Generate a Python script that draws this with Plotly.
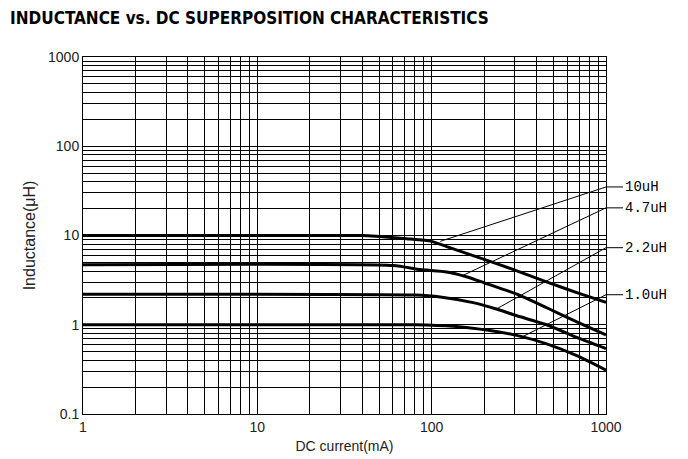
import math
import plotly.graph_objects as go

# ---- data ----
i_10 = [1, 40, 48, 72, 100, 122, 200, 300, 460, 700, 1000]
l_10 = [10, 10, 9.8, 9.2, 8.6, 7.5, 5.4, 4.1, 3.0, 2.25, 1.78]

i_47 = [1, 60, 86, 122, 158, 200, 308, 457, 700, 1000]
l_47 = [4.7, 4.6, 4.15, 3.9, 3.45, 2.95, 2.2, 1.55, 1.05, 0.77]

i_22 = [1, 80, 112, 173, 235, 308, 457, 680, 1000]
l_22 = [2.2, 2.15, 2.05, 1.77, 1.5, 1.26, 1.0, 0.72, 0.54]

i_10b = [1, 80, 133, 216, 308, 457, 680, 1000]
l_10b = [1.0, 1.0, 0.96, 0.86, 0.76, 0.61, 0.45, 0.31]

labels = ["10uH", "4.7uH", "2.2uH", "1.0uH"]
leader_start_i = [112, 150, 235, 330]
leader_start_l = [8.6, 3.55, 1.5, 0.73]
leader_end_l = [35, 20.4, 7.3, 2.17]

x_major = [1, 10, 100, 1000]
y_major = [0.1, 1, 10, 100, 1000]
x_tick_text = ["1", "10", "100", "1000"]
y_tick_text = ["0.1", "1", "10", "100", "1000"]

title_text = "INDUCTANCE vs. DC SUPERPOSITION CHARACTERISTICS"
x_title = "DC current(mA)"
y_title = "Inductance(μH)"

# ---- grid values (every 1..9 per decade) ----
def decade_vals(lo_exp, hi_exp):
    vals = []
    for e in range(lo_exp, hi_exp):
        for m in range(1, 10):
            vals.append(round(m * 10 ** e, 6))
    vals.append(round(10 ** hi_exp, 6))
    return vals

xv = decade_vals(0, 3)
yv = decade_vals(-1, 3)
xmaj = [round(v, 6) for v in x_major]
ymaj = [round(v, 6) for v in y_major]
xt = [x_tick_text[xmaj.index(v)] if v in xmaj else "" for v in xv]
yt = [y_tick_text[ymaj.index(v)] if v in ymaj else "" for v in yv]

fig = go.Figure()

# leader lines (inside plot)
for k in range(len(labels)):
    fig.add_trace(go.Scatter(
        x=[leader_start_i[k], x_major[-1]], y=[leader_start_l[k], leader_end_l[k]],
        mode="lines", line=dict(color="black", width=1), showlegend=False, hoverinfo="skip"))

for xs, ys in [(i_10, l_10), (i_47, l_47), (i_22, l_22), (i_10b, l_10b)]:
    fig.add_trace(go.Scatter(x=xs, y=ys, mode="lines",
                             line=dict(color="black", width=3, shape="spline", smoothing=0.6),
                             showlegend=False, hoverinfo="skip"))

# labels with short horizontal stubs outside the plot
for k in range(len(labels)):
    fig.add_annotation(
        x=math.log10(x_major[-1]), y=math.log10(leader_end_l[k]), xref="x", yref="y",
        text=labels[k], showarrow=True, arrowhead=0, arrowwidth=1, arrowcolor="black",
        ax=17, ay=0, xanchor="left", yanchor="middle",
        font=dict(family="Liberation Mono, DejaVu Sans Mono, monospace", size=14, color="black"))

fig.update_layout(
    width=688, height=459,
    margin=dict(l=75, r=90, t=49, b=53),
    paper_bgcolor="white", plot_bgcolor="white",
    title=dict(text="<b>" + title_text + "</b>", x=0.003, xanchor="left", y=0.99, yanchor="top",
               font=dict(family="Liberation Sans Narrow, DejaVu Sans Condensed, Liberation Sans, Arial", size=17, color="black")),
    font=dict(family="Liberation Sans, Arial, sans-serif", color="#222"),
)
fig.update_xaxes(type="log", range=[0, 3], tickvals=xv, ticktext=xt, ticks="", automargin=False,
                 showgrid=True, gridcolor="black", gridwidth=1,
                 showline=True, linecolor="black", linewidth=1, mirror=True,
                 tickfont=dict(size=14, color="#222"),
                 title=dict(text=x_title, font=dict(size=14, color="#222"), standoff=7))
fig.update_yaxes(type="log", range=[-1, 3], tickvals=yv, ticktext=yt, ticks="", automargin=False,
                 showgrid=True, gridcolor="black", gridwidth=1,
                 showline=True, linecolor="black", linewidth=1, mirror=True,
                 tickfont=dict(size=14, color="#222"),
                 title=dict(text=y_title, font=dict(size=16, color="#222"), standoff=8))

fig.write_html("out.html")
